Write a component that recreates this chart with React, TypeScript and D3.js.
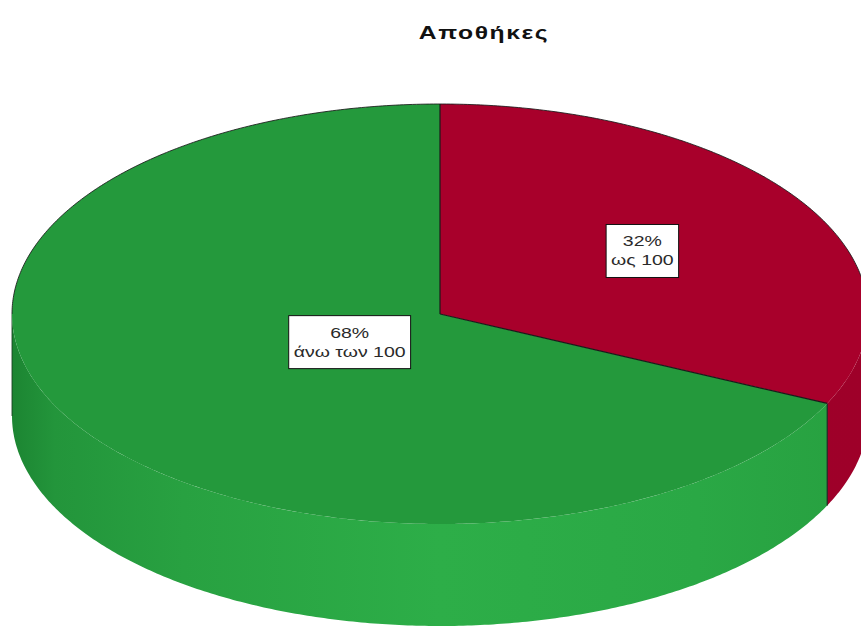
import React, { useRef, useLayoutEffect, useState } from "react";
import * as d3 from "d3";

const title = "Αποθήκες";
const categories = ["ως 100", "άνω των 100"];
const values = [32, 68];
const percentLabels = ["32%", "68%"];
const topColors = ["#a8002b", "#24993c"];
const sideColors = ["#a3002a", "#2cab47"];
const labelFractions = [0.56, 0.25];

const W = 861;
const H = 628;
const cx = 440;
const cy = 314;
const rx = 428;
const ry = 210;
const depth = 102;
const SX = 1.3;

function pt(theta: number, r: number, dy = 0): [number, number] {
  return [cx + r * rx * Math.sin(theta), cy - r * ry * Math.cos(theta) + dy];
}

function arcPts(a: number, b: number, dy = 0) {
  const n = Math.max(2, Math.ceil(Math.abs(b - a) / 0.01));
  return d3.range(n + 1).map((i) => pt(a + ((b - a) * i) / n, 1, dy));
}

const line = d3.line();

function Label({ x, y, lines }: { x: number; y: number; lines: string[] }) {
  const ref = useRef<SVGGElement>(null);
  const [w, setW] = useState(0);
  useLayoutEffect(() => {
    if (ref.current) setW(ref.current.getBBox().width);
  }, []);
  const lh = 19;
  const boxW = w * SX + 10;
  const boxH = 53;
  return (
    <g>
      {w > 0 && (
        <rect x={x - boxW / 2} y={y - boxH / 2} width={boxW} height={boxH} fill="#fff" stroke="#111" strokeWidth={1} />
      )}
      <g transform={`translate(${x},${y}) scale(${SX},1)`}>
        <g ref={ref}>
          {lines.map((t, i) => (
            <text key={i} x={0} y={(i - (lines.length - 1) / 2) * lh + 5} textAnchor="middle"
              fontFamily="Arial, 'Liberation Sans', sans-serif" fontSize={15} fill="#2a2a2a">
              {t}
            </text>
          ))}
        </g>
      </g>
    </g>
  );
}

export default function App() {
  const pie = d3.pie<number>().sort(null).startAngle(0).endAngle(2 * Math.PI);
  const arcs = pie(values);

  return (
    <svg width={W} height={H} style={{ display: "block", position: "absolute", left: 0, top: 0 }}>
      <defs>
        <linearGradient id="gside" x1={cx - rx} x2={cx + rx} y1={0} y2={0} gradientUnits="userSpaceOnUse">
          <stop offset="0" stopColor="#1c8532" />
          <stop offset="0.05" stopColor="#23953b" />
          <stop offset="0.2" stopColor="#28a141" />
          <stop offset="0.5" stopColor="#2dae48" />
          <stop offset="0.8" stopColor="#2aa845" />
          <stop offset="1" stopColor="#27a040" />
        </linearGradient>
        <linearGradient id="rside" x1={cx - rx} x2={cx + rx} y1={0} y2={0} gradientUnits="userSpaceOnUse">
          <stop offset="0" stopColor={sideColors[0]} />
          <stop offset="1" stopColor="#9e0029" />
        </linearGradient>
      </defs>
      <text x={0} y={39} textAnchor="middle" fontFamily="Arial, 'Liberation Sans', sans-serif" fontWeight="bold"
        fontSize={19} letterSpacing={1.2} fill="#111" transform={`translate(484,0) scale(${SX},1)`}>
        {title}
      </text>
      {/* sides */}
      {arcs.map((a, i) => {
        const s = Math.max(a.startAngle, Math.PI / 2);
        const e = Math.min(a.endAngle, (3 * Math.PI) / 2);
        if (e <= s) return null;
        const top = arcPts(s, e, 0);
        const bot = arcPts(e, s, depth);
        const d = line([...top, ...bot])! + "Z";
        return <path key={"s" + i} d={d} fill={i === 1 ? "url(#gside)" : "url(#rside)"} stroke="none" />;
      })}
      {/* side boundary lines */}
      {arcs.map((a, i) => {
        const t = a.startAngle;
        if (t <= Math.PI / 2 || t >= (3 * Math.PI) / 2) return null;
        const [x0, y0] = pt(t, 1);
        return <line key={"b" + i} x1={x0} y1={y0} x2={x0} y2={y0 + depth} stroke="#222" strokeWidth={1.2} />;
      })}
      {/* left edge shading line */}
      <line x1={cx - rx} y1={cy} x2={cx - rx} y2={cy + depth} stroke="#1a3a20" strokeWidth={1.2} strokeOpacity={0.7} />
      {/* tops */}
      {arcs.map((a, i) => {
        const pts = [[cx, cy] as [number, number], ...arcPts(a.startAngle, a.endAngle)];
        const d = line(pts)! + "Z";
        return <path key={"t" + i} d={d} fill={topColors[i]} stroke="none" />;
      })}
      {/* outlines: back rim and radial edges */}
      {arcs.map((a, i) => {
        const [x0, y0] = pt(a.startAngle, 1);
        return <line key={"r" + i} x1={cx} y1={cy} x2={x0} y2={y0} stroke="#1a1a1a" strokeWidth={1.2} />;
      })}
      <path d={line(arcPts(-Math.PI / 2, Math.PI / 2))!} fill="none" stroke="#1a1a1a" strokeWidth={1} strokeOpacity={0.85} />
      {arcs.map((a, i) => {
        const mid = (a.startAngle + a.endAngle) / 2;
        const [x, y] = pt(mid, labelFractions[i]);
        return <Label key={"l" + i} x={x} y={y} lines={[percentLabels[i], categories[i]]} />;
      })}
    </svg>
  );
}
